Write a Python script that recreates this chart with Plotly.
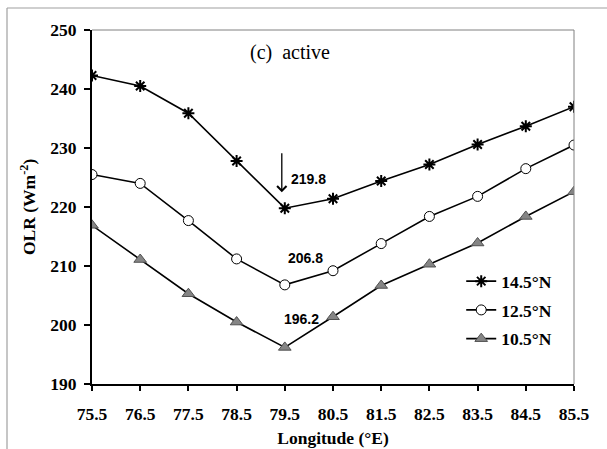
import plotly.graph_objects as go

# ---- data ----
longitude = [75.5, 76.5, 77.5, 78.5, 79.5, 80.5, 81.5, 82.5, 83.5, 84.5, 85.5]
olr_14_5N = [242.3, 240.5, 235.9, 227.8, 219.8, 221.4, 224.4, 227.2, 230.6, 233.7, 237.0]
olr_12_5N = [225.5, 224.0, 217.7, 211.2, 206.8, 209.2, 213.8, 218.4, 221.8, 226.5, 230.5]
olr_10_5N = [216.9, 211.1, 205.3, 200.5, 196.2, 201.4, 206.7, 210.3, 213.9, 218.4, 222.6]
series_names = ["14.5°N", "12.5°N", "10.5°N"]
x_tick_labels = ["75.5", "76.5", "77.5", "78.5", "79.5", "80.5", "81.5", "82.5", "83.5", "84.5", "85.5"]
y_ticks = [190, 200, 210, 220, 230, 240, 250]
min_index = 4  # position of minimum values (79.5)

SERIF = "Liberation Serif"
SANS = "Liberation Sans"

fig = go.Figure()

fig.add_trace(go.Scatter(
    x=longitude, y=olr_14_5N, name=series_names[0], mode="lines+markers",
    line=dict(color="black", width=1.6), legendgroup="a",
    marker=dict(symbol="asterisk-open", size=10, color="black",
                line=dict(color="black", width=2)),
))
fig.add_trace(go.Scatter(
    x=longitude, y=olr_12_5N, name=series_names[1], mode="lines+markers",
    line=dict(color="black", width=1.6), legendgroup="b",
    marker=dict(symbol="circle", size=10, color="white",
                line=dict(color="black", width=1)),
))
fig.add_trace(go.Scatter(
    x=longitude, y=olr_10_5N, name=series_names[2], mode="lines+markers",
    line=dict(color="black", width=1.6), legendgroup="c",
    marker=dict(symbol="triangle-up", size=11, color="#858585",
                line=dict(color="#505050", width=1)),
))

# value labels at the minimum
label_font = dict(family=SANS, size=14, color="black", weight="bold")
for series, dx, dy in [(olr_14_5N, 24, 29), (olr_12_5N, 21, 27), (olr_10_5N, 17, 28.5)]:
    fig.add_annotation(
        x=longitude[min_index], y=series[min_index],
        text=f"{series[min_index]:.1f}", showarrow=False,
        xshift=dx, yshift=dy, font=label_font,
    )

# arrow above the 14.5N minimum
fig.add_annotation(
    x=longitude[min_index], y=olr_14_5N[min_index], text=" ",
    showarrow=True, ax=0, ay=-58, standoff=16, xshift=-3,
    arrowhead=4, arrowsize=1.4, arrowwidth=1.3, arrowcolor="black",
    font=dict(size=2),
)

# panel label
fig.add_annotation(
    x=0.41, y=0.975, xref="paper", yref="paper", text="(c)  active",
    showarrow=False, font=dict(family=SERIF, size=20, color="black"),
)

tick_font = dict(family=SERIF, size=17.5, color="black", weight="bold")

# y-axis title
fig.add_annotation(
    x=(28 - 92) / 482, y=0.5, xref="paper", yref="paper",
    xanchor="center", yanchor="middle",
    text="OLR (Wm<sup>-2</sup>)", textangle=-90, showarrow=False,
    font=tick_font,
)

# outer frame (top & left visible)
fig.add_shape(type="line", xref="paper", yref="paper",
              x0=(7 - 92) / 482, x1=(620 - 92) / 482,
              y0=(384 - 8) / 354, y1=(384 - 8) / 354,
              line=dict(color="#a0a0a0", width=1.2))
fig.add_shape(type="line", xref="paper", yref="paper",
              x0=(7 - 92) / 482, x1=(7 - 92) / 482,
              y0=(384 - 8) / 354, y1=(384 - 460) / 354,
              line=dict(color="#a0a0a0", width=1.2))
# plot-area top and right border (thin grey)
fig.add_shape(type="line", xref="paper", yref="paper", x0=0, x1=1, y0=1, y1=1,
              line=dict(color="#808080", width=1))
fig.add_shape(type="line", xref="paper", yref="paper", x0=1, x1=1, y0=0, y1=1,
              line=dict(color="#808080", width=1))

fig.update_xaxes(
    range=[75.5, 85.5], tickvals=longitude, ticktext=x_tick_labels,
    showgrid=False, zeroline=False,
    showline=True, linecolor="black", linewidth=2,
    ticks="outside", ticklen=5, tickwidth=1.5, tickcolor="black",
    tickfont=tick_font, ticklabelstandoff=8,
    title=dict(text="Longitude (°E)", font=tick_font, standoff=9),
    automargin=False,
)
fig.update_yaxes(
    range=[190, 250], tickvals=y_ticks,
    showgrid=False, zeroline=False,
    showline=True, linecolor="black", linewidth=2,
    ticks="outside", ticklen=6, tickwidth=1.5, tickcolor="black",
    tickfont=tick_font, ticklabelstandoff=4,
    automargin=False,
)

fig.update_layout(
    width=607, height=449,
    margin=dict(l=92, r=33, t=30, b=65, pad=0),
    plot_bgcolor="white", paper_bgcolor="white",
    showlegend=True,
    legend=dict(
        x=0.766, y=0.341, xanchor="left", yanchor="top",
        font=dict(family=SERIF, size=17.5, color="black", weight="bold"),
        bgcolor="rgba(0,0,0,0)", traceorder="grouped", tracegroupgap=3,
        itemwidth=30,
    ),
)

fig.write_html("out.html")
